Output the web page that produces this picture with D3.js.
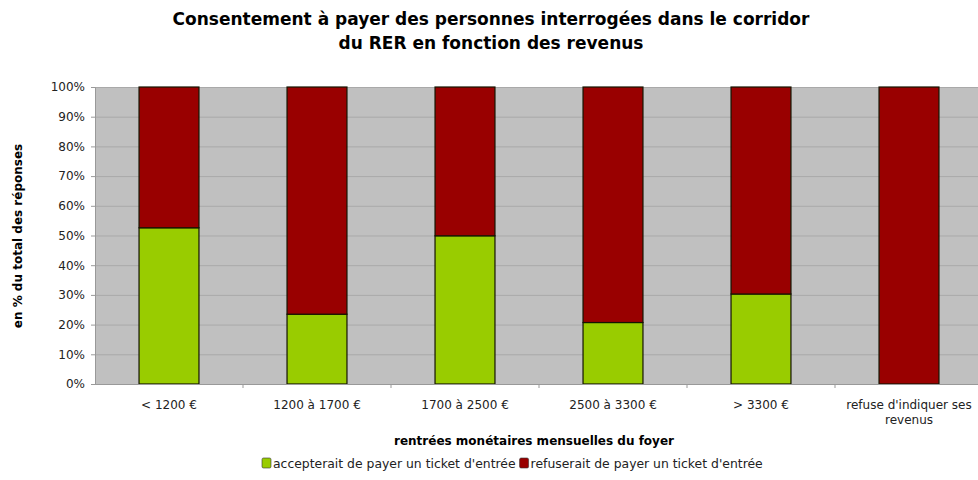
<!DOCTYPE html>
<html>
<head>
<meta charset="utf-8">
<script src="https://cdn.jsdelivr.net/npm/d3@7"></script>
<style>
  body { margin: 0; background: #fff; }
  svg { display: block; font-family: "DejaVu Sans", Verdana, sans-serif; }
</style>
</head>
<body>
<div id="chart"></div>
<script>
/* ---------- data ---------- */
const categories = ["< 1200 €", "1200 à 1700 €", "1700 à 2500 €", "2500 à 3300 €", "> 3300 €", "refuse d'indiquer ses revenus"];
const accepte = [52.6, 23.5, 49.9, 20.7, 30.3, 0];
const refuse  = [47.4, 76.5, 50.1, 79.3, 69.7, 100];
const seriesNames = ["accepterait de payer un ticket d'entrée", "refuserait de payer un ticket d'entrée"];
const yTicks = [0, 10, 20, 30, 40, 50, 60, 70, 80, 90, 100];

const colors = ["#99cc00", "#990000"];

const W = 978, H = 480;
const margin = { top: 87, left: 95 };
const plotW = 888; // runs past the right edge, as in the original
const plotH = 297;

const svg = d3.select("#chart").append("svg")
  .attr("width", W)
  .attr("height", H);

// Title
const title = svg.append("text")
  .attr("text-anchor", "middle")
  .style("font-size", "17px")
  .style("font-weight", "bold")
  .style("fill", "#000");
title.append("tspan").attr("x", 491).attr("y", 25).text("Consentement à payer des personnes interrogées dans le corridor");
title.append("tspan").attr("x", 491).attr("y", 49).text("du RER en fonction des revenus");

const g = svg.append("g").attr("transform", `translate(${margin.left},${margin.top})`);

const x = d3.scaleBand().domain(categories).range([0, plotW]).paddingInner(0.595).paddingOuter(0.2975);
const y = d3.scaleLinear().domain([0, 100]).range([plotH, 0]);

// plot background
g.append("rect")
  .attr("x", 0).attr("y", 0)
  .attr("width", plotW).attr("height", y(0))
  .attr("fill", "#c0c0c0");

// Grid lines
g.append("g")
  .call(d3.axisLeft(y).tickValues(yTicks).tickSize(-plotW).tickFormat(""))
  .call(g => g.select(".domain").remove())
  .selectAll("line")
  .attr("stroke", "#a9a9a9");

// Y axis
g.append("g")
  .call(d3.axisLeft(y).tickValues(yTicks).tickSize(4).tickPadding(6).tickFormat(d => d + "%"))
  .call(g => g.select(".domain").attr("stroke", "#999"))
  .call(g => g.selectAll(".tick line").attr("stroke", "#999"))
  .selectAll("text")
  .style("font-family", "'DejaVu Sans', Verdana, sans-serif")
  .style("font-size", "12px")
  .style("fill", "#222");

// Bars (stacked)
const stackData = categories.map((c, i) => ({ cat: c, a: accepte[i], r: refuse[i] }));
const stack = d3.stack().keys(["a", "r"])(stackData);

g.selectAll(".serie")
  .data(stack)
  .enter().append("g")
  .attr("fill", (d, i) => colors[i])
  .selectAll("rect")
  .data(d => d.filter(p => p[1] - p[0] > 0))
  .enter().append("rect")
  .attr("x", d => x(d.data.cat))
  .attr("y", d => y(d[1]))
  .attr("width", x.bandwidth())
  .attr("height", d => y(d[0]) - y(d[1]))
  .attr("stroke", "#141400")
  .attr("stroke-width", 1.2);

// X axis
const xAxis = g.append("g")
  .attr("transform", `translate(0,${y(0)})`)
  .call(d3.axisBottom(x).tickSize(0).tickPadding(16));
xAxis.select(".domain").attr("stroke", "#999");
xAxis.selectAll("text")
  .style("font-family", "'DejaVu Sans', Verdana, sans-serif")
  .style("font-size", "12px")
  .style("fill", "#222")
  .each(function(d) {
    if (d === categories[5]) {
      const t = d3.select(this);
      t.text(null);
      t.append("tspan").attr("x", 0).text("refuse d'indiquer ses");
      t.append("tspan").attr("x", 0).attr("dy", "1.25em").text("revenus");
    }
  });

// category boundary ticks
xAxis.selectAll(".sep")
  .data(categories.slice(1))
  .enter().append("line")
  .attr("x1", d => x(d) - x.step() * x.paddingInner() / 2)
  .attr("x2", d => x(d) - x.step() * x.paddingInner() / 2)
  .attr("y1", 0).attr("y2", 4)
  .attr("stroke", "#999");

// Axis titles
svg.append("text")
  .attr("x", 534).attr("y", 445)
  .attr("text-anchor", "middle")
  .style("font-size", "12px")
  .style("font-weight", "bold")
  .text("rentrées monétaires mensuelles du foyer");

svg.append("text")
  .attr("transform", `translate(22,236) rotate(-90)`)
  .attr("text-anchor", "middle")
  .style("font-size", "12px")
  .style("font-weight", "bold")
  .text("en % du total des réponses");

// Legend (items packed one after another)
const legend = svg.append("g").attr("transform", "translate(262,468)");
let lx = 0;
seriesNames.forEach((name, i) => {
  const item = legend.append("g").attr("transform", `translate(${lx},0)`);
  item.append("rect")
    .attr("x", 0).attr("y", -10)
    .attr("width", 9).attr("height", 10)
    .attr("rx", 1.5)
    .attr("fill", colors[i])
    .attr("stroke", "#333").attr("stroke-width", 0.6);
  const t = item.append("text")
    .attr("x", 11).attr("y", 0)
    .style("font-size", "12.4px")
    .style("fill", "#222")
    .text(name);
  lx += 11 + t.node().getComputedTextLength() + 4;
});
</script>
</body>
</html>
